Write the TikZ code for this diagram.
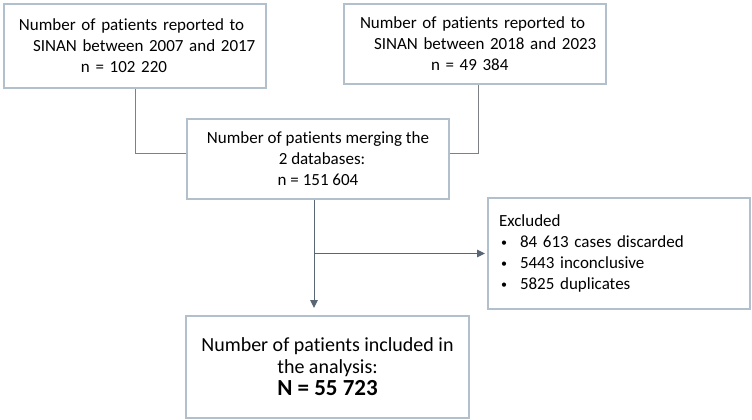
\documentclass[tikz,border=0pt]{standalone}
\usepackage{fontspec}
\setmainfont{Carlito}[Ligatures=NoCommon]
\usetikzlibrary{arrows.meta}
\definecolor{boxline}{RGB}{178,192,206}
\definecolor{conn}{RGB}{125,128,132}
\definecolor{arr}{RGB}{88,102,118}
\newcommand{\smallbul}{\makebox[19pt][l]{\raisebox{1.5pt}{\fontsize{12}{12}\selectfont •}}}
\begin{document}
\begin{tikzpicture}[x=1pt,y=1pt,
  flowbox/.style={draw=boxline, line width=2pt, rectangle, anchor=north west,
    inner sep=0pt, font=\fontsize{17}{21}\selectfont},
  leftbox/.style={flowbox, align=left},
  midbox/.style={flowbox, align=center},
  joinline/.style={draw=conn, line width=1pt},
  arrowline/.style={draw=arr, line width=1pt, -{Triangle[length=8pt,width=7.5pt]}}
]
\useasboundingbox (0,0) rectangle (752,-420);

\node[leftbox, text width=262pt, minimum height=84pt] (A) at (3,-3)
  {\hspace*{15pt}Number of patients reported to\\
   \hspace*{29pt}SINAN between 2007 and 2017\\
   \hspace*{77pt}n = 102 220};

\node[leftbox, text width=262pt, minimum height=80pt] (B) at (343,-3)
  {\hspace*{16pt}Number of patients reported to\\
   \hspace*{30pt}SINAN between 2018 and 2023\\
   \hspace*{87pt}n = 49 384};

\node[midbox, minimum width=262pt, minimum height=80pt] (C) at (186,-118)
  {Number of patients merging the\\
   \hspace*{8pt}2 databases:\\
   n = 151 604};

\node[leftbox, text width=262pt, minimum height=111pt] (E) at (487,-197)
  {\hspace*{11pt}Excluded\\
   \hspace*{13pt}\smallbul 84 613 cases discarded\\
   \hspace*{13pt}\smallbul 5443 inconclusive\\
   \hspace*{13pt}\smallbul 5825 duplicates};

\node[midbox, minimum width=283pt, minimum height=102pt,
  font=\fontsize{20}{22}\selectfont] (D) at (185,-315)
  {Number of patients included in\\
   the analysis:\\[0pt]
   {\fontsize{23}{23}\selectfont\bfseries N = 55 723}};

\coordinate (split) at ([xshift=-4pt]C.south);
\coordinate (mergeL) at ([yshift=6pt]C.west);
\coordinate (mergeR) at ([yshift=6pt]C.east);

\draw[joinline] (A.south) |- (mergeL);
\draw[joinline] ([xshift=3pt]B.south) |- (mergeR);
\draw[arrowline, shorten >=7pt] (split) -- (split |- D.north);
\draw[arrowline, shorten >=2pt] (split |- E.west) -- (E.west);
\end{tikzpicture}
\end{document}
